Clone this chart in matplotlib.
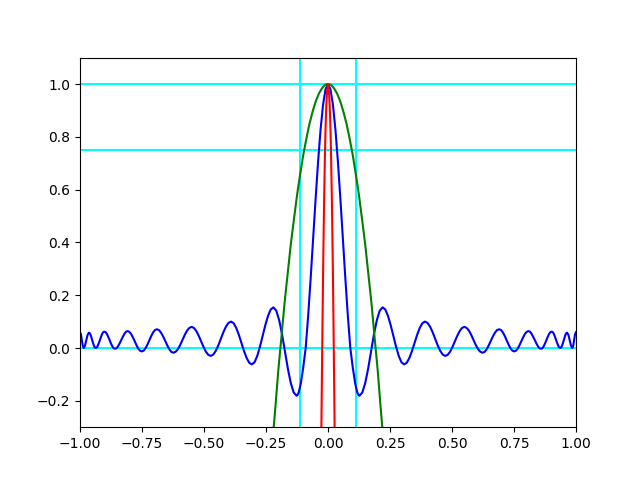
import matplotlib
matplotlib.use("Agg")
import matplotlib.pyplot as plt

# Blue curve, left half
blue_x_left = [-1.000, -0.996, -0.9925, -0.989, -0.985, -0.9798, -0.9745, -0.9693, -0.964, -0.9606,
               -0.9573, -0.9539, -0.9505, -0.9471, -0.9438, -0.9404, -0.937, -0.9326, -0.9283, -0.9239,
               -0.9195, -0.9151, -0.9108, -0.9064, -0.902, -0.8966, -0.8913, -0.8859, -0.8805, -0.8751,
               -0.8698, -0.8644, -0.859, -0.8526, -0.8463, -0.8399, -0.8335, -0.8271, -0.8208, -0.8144,
               -0.808, -0.8009, -0.7938, -0.7866, -0.7795, -0.7724, -0.7653, -0.7581, -0.751, -0.7434,
               -0.7358, -0.7281, -0.7205, -0.7129, -0.7053, -0.6976, -0.690, -0.6816, -0.6733, -0.6649,
               -0.6565, -0.6481, -0.6398, -0.6314, -0.623, -0.6139, -0.6048, -0.5956, -0.5865, -0.5774,
               -0.5683, -0.5591, -0.550, -0.5404, -0.5308, -0.5211, -0.5115, -0.5019, -0.4923, -0.4826,
               -0.473, -0.4628, -0.4525, -0.4423, -0.432, -0.4218, -0.4115, -0.4013, -0.391, -0.3805,
               -0.370, -0.3595, -0.349, -0.3385, -0.328, -0.3175, -0.307, -0.2961, -0.2853, -0.2744,
               -0.2635, -0.2526, -0.2418, -0.2309, -0.220, -0.2084, -0.1968, -0.1851, -0.1735, -0.1619,
               -0.1503, -0.1386, -0.127, -0.123, -0.118, -0.110, -0.100, -0.090, -0.080, -0.070,
               -0.060, -0.050, -0.040, -0.030, -0.020, -0.010]
blue_y_left = [0.060, 0.051, 0.030, 0.009, 0.000, 0.009, 0.029, 0.050, 0.058, 0.056,
               0.050, 0.040, 0.029, 0.018, 0.009, 0.002, 0.000, 0.002, 0.009, 0.019,
               0.031, 0.043, 0.053, 0.060, 0.062, 0.060, 0.053, 0.042, 0.030, 0.017,
               0.007, -0.001, -0.003, -0.001, 0.007, 0.018, 0.031, 0.043, 0.054, 0.062,
               0.064, 0.061, 0.053, 0.040, 0.026, 0.011, -0.002, -0.010, -0.013, -0.010,
               -0.001, 0.013, 0.029, 0.045, 0.059, 0.068, 0.071, 0.068, 0.058, 0.044,
               0.027, 0.010, -0.005, -0.015, -0.018, -0.014, -0.004, 0.012, 0.031, 0.050,
               0.066, 0.076, 0.080, 0.076, 0.064, 0.046, 0.025, 0.004, -0.014, -0.026,
               -0.030, -0.025, -0.011, 0.010, 0.035, 0.060, 0.081, 0.095, 0.100, 0.094,
               0.076, 0.050, 0.019, -0.012, -0.038, -0.056, -0.062, -0.054, -0.030, 0.005,
               0.046, 0.087, 0.122, 0.146, 0.154, 0.141, 0.105, 0.051, -0.0135, -0.078,
               -0.132, -0.168, -0.181, -0.178, -0.168, -0.136, -0.075, 0.000, 0.122, 0.263,
               0.414, 0.564, 0.705, 0.827, 0.921, 0.980]

# Blue curve, peak
blue_x_mid = [0.000]
blue_y_mid = [1.000]

# Blue curve, right half
blue_x_right = [0.010, 0.020, 0.030, 0.040, 0.050, 0.060, 0.070, 0.080, 0.090, 0.100,
                0.110, 0.118, 0.123, 0.127, 0.1386, 0.1503, 0.1619, 0.1735, 0.1851, 0.1968,
                0.2084, 0.220, 0.2309, 0.2418, 0.2526, 0.2635, 0.2744, 0.2853, 0.2961, 0.307,
                0.3175, 0.328, 0.3385, 0.349, 0.3595, 0.370, 0.3805, 0.391, 0.4013, 0.4115,
                0.4218, 0.432, 0.4423, 0.4525, 0.4628, 0.473, 0.4826, 0.4923, 0.5019, 0.5115,
                0.5211, 0.5308, 0.5404, 0.550, 0.5591, 0.5683, 0.5774, 0.5865, 0.5956, 0.6048,
                0.6139, 0.623, 0.6314, 0.6398, 0.6481, 0.6565, 0.6649, 0.6733, 0.6816, 0.690,
                0.6976, 0.7053, 0.7129, 0.7205, 0.7281, 0.7358, 0.7434, 0.751, 0.7581, 0.7653,
                0.7724, 0.7795, 0.7866, 0.7938, 0.8009, 0.808, 0.8144, 0.8208, 0.8271, 0.8335,
                0.8399, 0.8463, 0.8526, 0.859, 0.8644, 0.8698, 0.8751, 0.8805, 0.8859, 0.8913,
                0.8966, 0.902, 0.9064, 0.9108, 0.9151, 0.9195, 0.9239, 0.9283, 0.9326, 0.937,
                0.9404, 0.9438, 0.9471, 0.9505, 0.9539, 0.9573, 0.9606, 0.964, 0.9693, 0.9745,
                0.9798, 0.985, 0.989, 0.9925, 0.996, 1.000]
blue_y_right = [0.980, 0.921, 0.827, 0.705, 0.564, 0.414, 0.263, 0.122, 0.000, -0.075,
                -0.136, -0.168, -0.178, -0.181, -0.168, -0.132, -0.078, -0.0135, 0.051, 0.105,
                0.141, 0.154, 0.146, 0.122, 0.087, 0.046, 0.005, -0.030, -0.054, -0.062,
                -0.056, -0.038, -0.012, 0.019, 0.050, 0.076, 0.094, 0.100, 0.095, 0.081,
                0.060, 0.035, 0.010, -0.011, -0.025, -0.030, -0.026, -0.014, 0.004, 0.025,
                0.046, 0.064, 0.076, 0.080, 0.076, 0.066, 0.050, 0.031, 0.012, -0.004,
                -0.014, -0.018, -0.015, -0.005, 0.010, 0.027, 0.044, 0.058, 0.068, 0.071,
                0.068, 0.059, 0.045, 0.029, 0.013, -0.001, -0.010, -0.013, -0.010, -0.002,
                0.011, 0.026, 0.040, 0.053, 0.061, 0.064, 0.062, 0.054, 0.043, 0.031,
                0.018, 0.007, -0.001, -0.003, -0.001, 0.007, 0.017, 0.030, 0.042, 0.053,
                0.060, 0.062, 0.060, 0.053, 0.043, 0.031, 0.019, 0.009, 0.002, 0.000,
                0.002, 0.009, 0.018, 0.029, 0.040, 0.050, 0.056, 0.058, 0.050, 0.029,
                0.009, 0.000, 0.009, 0.030, 0.051, 0.060]

# Green curve
green_x = [-0.225, -0.2125, -0.200, -0.1875, -0.175, -0.1625, -0.150, -0.1375, -0.125, -0.1125,
           -0.100, -0.0875, -0.075, -0.0625, -0.050, -0.0375, -0.025, -0.0125, 0.000,
           0.0125, 0.025, 0.0375, 0.050, 0.0625, 0.075, 0.0875, 0.100, 0.1125, 0.125,
           0.1375, 0.150, 0.1625, 0.175, 0.1875, 0.200, 0.2125, 0.225]
green_y = [-0.367, -0.228, -0.080, 0.044, 0.173, 0.282, 0.393, 0.486, 0.578, 0.656,
           0.730, 0.792, 0.848, 0.894, 0.933, 0.962, 0.983, 0.996, 1.000,
           0.996, 0.983, 0.962, 0.933, 0.894, 0.848, 0.792, 0.730, 0.656, 0.578,
           0.486, 0.393, 0.282, 0.173, 0.044, -0.080, -0.228, -0.367]

# Red curve
red_x = [-0.028, -0.025, -0.022, -0.019, -0.016, -0.013, -0.010, -0.007, -0.004, 0.000,
         0.004, 0.007, 0.010, 0.013, 0.016, 0.019, 0.022, 0.025, 0.028]
red_y = [-0.420, -0.150, 0.110, 0.340, 0.540, 0.700, 0.830, 0.915, 0.970, 1.000,
         0.970, 0.915, 0.830, 0.700, 0.540, 0.340, 0.110, -0.150, -0.420]

# Reference lines
hlines = [0.0, 0.75, 1.0]
vlines = [-0.113, 0.113]

blue_x = blue_x_left + blue_x_mid + blue_x_right
blue_y = blue_y_left + blue_y_mid + blue_y_right

fig, ax = plt.subplots(figsize=(6.4, 4.8), dpi=100)
for h in hlines:
    ax.axhline(h, color="cyan", lw=1.5, zorder=1)
for v in vlines:
    ax.axvline(v, color="cyan", lw=1.5, zorder=1)
ax.plot(blue_x, blue_y, color="blue", lw=1.5, zorder=2)
ax.plot(green_x, green_y, color="green", lw=1.5, zorder=2)
ax.plot(red_x, red_y, color="red", lw=1.5, zorder=2)
ax.set_xlim(-1, 1)
ax.set_ylim(-0.3, 1.1)
fig.savefig("out.png", dpi=100)
